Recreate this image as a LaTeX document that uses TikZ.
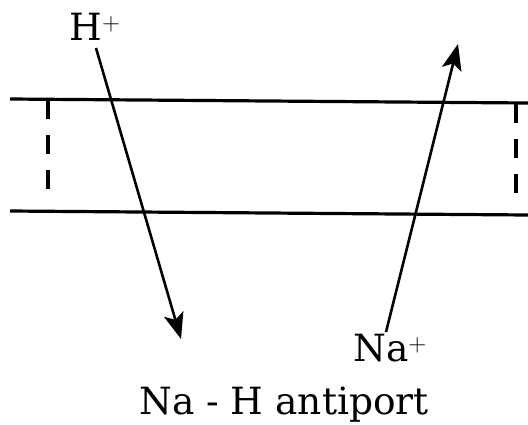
\documentclass[tikz,border=0pt]{standalone}
\usepackage{fontspec}
\setmainfont{DejaVu Serif}
\usetikzlibrary{arrows.meta}
\begin{document}
\begin{tikzpicture}[x=1pt,y=-1pt,
  memb/.style={line width=3.2pt},
  gap/.style={line width=3.2pt,dash pattern=on 19pt off 16pt},
  flux/.style={line width=2.6pt,-{Stealth[length=26pt,width=20pt,inset=6pt]}},
  lbl/.style={inner sep=0pt,font=\fontsize{37.5}{41}\selectfont},
  sup/.style={font=\fontsize{20}{22}\selectfont}]
\useasboundingbox (0,0) rectangle (528,424);
\coordinate (tl) at (10,99);
\coordinate (tr) at (528,103);
\coordinate (bl) at (10,211);
\coordinate (br) at (528,215);
\draw[memb] (tl) -- (tr);
\draw[memb] (bl) -- (br);
\coordinate (d1a) at (48,100);
\coordinate (d1b) at (48,195);
\coordinate (d2a) at (516,104);
\coordinate (d2b) at (516,200);
\draw[gap] (d1a) -- (d1b);
\draw[gap] (d2a) -- (d2b);
\node[lbl,anchor=base] (h) at (95,40) {H$^+$};
\node[lbl,anchor=base] (na) at (390,361) {Na$^+$};
\node[lbl,anchor=base] (title) at (284,414) {Na - H antiport};
\coordinate (hs) at (96,48);
\coordinate (he) at (181,339);
\coordinate (ns) at (386,332);
\coordinate (ne) at (458,44);
\draw[flux] (hs) -- (he);
\draw[flux] (ns) -- (ne);
\end{tikzpicture}
\end{document}
